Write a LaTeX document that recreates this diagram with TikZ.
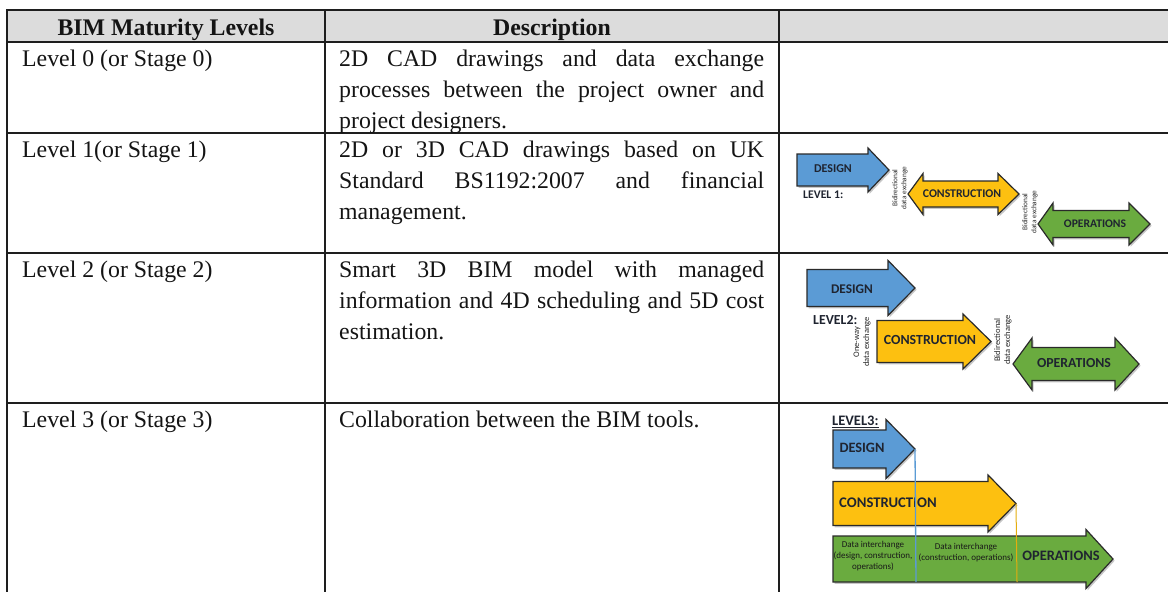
\documentclass[tikz,border=0pt]{standalone}
\usepackage{fontspec}
\setmainfont{Liberation Serif}
\newfontfamily\carl{Carlito}

\definecolor{hdrgray}{HTML}{DCDCDC}
\definecolor{rulecol}{HTML}{1E1E1E}
\definecolor{dblue}{HTML}{5B9BD5}
\definecolor{cyellow}{HTML}{FDC010}
\definecolor{ogreen}{HTML}{6AAB3F}
\definecolor{edgecol}{HTML}{2A2A2A}
\definecolor{ink}{HTML}{1F2430}

% right-pointing block arrow: x body start, x head base, x tip, y centre, body half, head half
\newcommand\pathR[6]{(#1,#4-#5) -- (#2,#4-#5) -- (#2,#4-#6) -- (#3,#4) -- (#2,#4+#6) -- (#2,#4+#5) -- (#1,#4+#5) -- cycle}
% double-headed block arrow: left tip, left head base, right head base, right tip, y centre, body half, head half
\newcommand\pathD[7]{(#1,#5) -- (#2,#5-#7) -- (#2,#5-#6) -- (#3,#5-#6) -- (#3,#5-#7) -- (#4,#5) -- (#3,#5+#7) -- (#3,#5+#6) -- (#2,#5+#6) -- (#2,#5+#7) -- cycle}

\begin{document}
\begin{tikzpicture}[x=1pt,y=-1pt,
  rulel/.style={draw=rulecol, line width=2pt},
  cell/.style={inner sep=0pt, anchor=base west, font=\fontsize{23.8}{31}\selectfont, text=black!92},
  hdr/.style={inner sep=0pt, anchor=base, font=\fontsize{23.8}{31}\selectfont\bfseries, text=black!92},
  blk/.style={draw=edgecol, line width=1.2pt, line join=miter},
  blkshadow/.style={fill=black!22, shift={(1.6,1.8)}},
  tag/.style={inner sep=0pt, font=\carl\bfseries\fontsize{#1}{#1}\selectfont, text=ink},
  tag/.default=12,
  vnoteA/.style={inner sep=0pt, rotate=90, align=center, font=\carl\fontsize{7.3}{9}\selectfont, text=black!85},
  vnoteB/.style={inner sep=0pt, rotate=90, align=center, font=\carl\fontsize{8.5}{10}\selectfont, text=black!85},
  small/.style={inner sep=0pt, align=center, font=\carl\fontsize{9}{11}\selectfont, text=black!90},
]
\useasboundingbox (0,0) rectangle (1168,592);

% ---------------- table frame ----------------
\fill[hdrgray] (7,10) rectangle (1168,42);
\foreach \yy in {10,42,133,253,403}
  \draw[rulel] (6,\yy) -- (1168,\yy);
\foreach \xx in {7,325,779}
  \draw[rulel] (\xx,9) -- (\xx,592);

% ---------------- header ----------------
\node[hdr] (hlev) at (166,35) {BIM Maturity Levels};
\node[hdr] (hdesc) at (552,35) {Description};

% ---------------- level column ----------------
\node[cell] (lv0) at (22,66) {Level 0 (or Stage 0)};
\node[cell] (lv1) at (22,157) {Level 1(or Stage 1)};
\node[cell] (lv2) at (22,277) {Level 2 (or Stage 2)};
\node[cell] (lv3) at (22,427) {Level 3 (or Stage 3)};

% ---------------- description column ----------------
\node[cell] (d0a) at (339,66)  {\makebox[425pt][s]{2D CAD drawings and data exchange}};
\node[cell] (d0b) at (339,97)  {\makebox[425pt][s]{processes between the project owner and}};
\node[cell] (d0c) at (339,128) {project designers.};

\node[cell] (d1a) at (339,157) {\makebox[425pt][s]{2D or 3D CAD drawings based on UK}};
\node[cell] (d1b) at (339,188) {\makebox[425pt][s]{Standard BS1192:2007 and financial}};
\node[cell] (d1c) at (339,219) {management.};

\node[cell] (d2a) at (339,277) {\makebox[425pt][s]{Smart 3D BIM model with managed}};
\node[cell] (d2b) at (339,308) {\makebox[425pt][s]{information and 4D scheduling and 5D cost}};
\node[cell] (d2c) at (339,339) {estimation.};

\node[cell] (d3a) at (339,427) {Collaboration between the BIM tools.};

% ---------------- level 1 sketch ----------------
\fill[blkshadow] \pathR{797}{868}{889}{170}{16}{22};
\filldraw[blk, fill=dblue] \pathR{797}{868}{889}{170}{16}{22};
\fill[blkshadow] \pathD{908}{923}{998}{1019}{194}{13}{20.5};
\filldraw[blk, fill=cyellow] \pathD{908}{923}{998}{1019}{194}{13}{20.5};
\fill[blkshadow] \pathD{1038}{1053}{1129}{1150}{224}{13.5}{21};
\filldraw[blk, fill=ogreen] \pathD{1038}{1053}{1129}{1150}{224}{13.5}{21};

\node[tag=12]   (l1des) at (833,169) {DESIGN};
\node[tag=11.7, anchor=west] (l1lab) at (803,195) {LEVEL 1:};
\node[tag=11.8] (l1con) at (962,194) {CONSTRUCTION};
\node[tag=11.6] (l1ops) at (1095,224) {OPERATIONS};
\node[vnoteA] (l1x1) at (900,188) {Bidirectional\\data exchange};
\node[vnoteA] (l1x2) at (1030,212) {Bidirectional\\data exchange};

% ---------------- level 2 sketch ----------------
\fill[blkshadow] \pathR{807}{888}{915}{288}{18.5}{27.5};
\filldraw[blk, fill=dblue] \pathR{807}{888}{915}{288}{18.5}{27.5};
\fill[blkshadow] \pathR{877}{963}{991}{341.5}{21}{27.5};
\filldraw[blk, fill=cyellow] \pathR{877}{963}{991}{341.5}{21}{27.5};
\fill[blkshadow] \pathD{1013}{1032}{1115}{1139}{364}{16.5}{26};
\filldraw[blk, fill=ogreen] \pathD{1013}{1032}{1115}{1139}{364}{16.5}{26};

\node[tag=13.3] (l2des) at (852,289) {DESIGN};
\node[tag=13.8, anchor=west] (l2lab) at (813,320) {LEVEL2:};
\node[tag=13.9] (l2con) at (930,340) {CONSTRUCTION};
\node[tag=13.8] (l2ops) at (1074,363) {OPERATIONS};
\node[vnoteB] (l2x1) at (862,342) {One-way\\data exchange};
\node[vnoteB] (l2x2) at (1003,340) {Bidirectional\\data exchange};

% ---------------- level 3 sketch ----------------
\fill[blkshadow] \pathR{833}{886}{915}{449}{19}{29.5};
\filldraw[blk, fill=dblue] \pathR{833}{886}{915}{449}{19}{29.5};
\fill[blkshadow] \pathR{833}{988}{1016}{503.5}{22}{28.5};
\filldraw[blk, fill=cyellow] \pathR{833}{988}{1016}{503.5}{22}{28.5};
\fill[blkshadow] \pathR{833}{1086}{1113}{559}{23}{29.5};
\filldraw[blk, fill=ogreen] \pathR{833}{1086}{1113}{559}{23}{29.5};

\node[tag=14.3] (l3des) at (862,448) {DESIGN};
\node[tag=14.7] (l3con) at (888,503) {CONSTRUCTION};
\node[tag=14.4] (l3ops) at (1061,556) {OPERATIONS};
\node[small] (l3n1) at (873,556) {Data interchange\\(design, construction,\\operations)};
\node[small] (l3n2) at (966,552.5) {Data interchange\\(construction, operations)};
\node[tag=14.5, anchor=west] (l3lab) at (832,422) {\underline{LEVEL3:}};

% hand-over lines from the design and construction tips
\coordinate (destip) at (915,449);
\coordinate (desfoot) at (916,582);
\coordinate (contip) at (1016,503.5);
\coordinate (confoot) at (1017,582);
\draw[dblue, line width=1.3pt] (destip) -- (desfoot);
\draw[cyellow!90!black, line width=1pt] (contip) -- (confoot);
\end{tikzpicture}
\end{document}
